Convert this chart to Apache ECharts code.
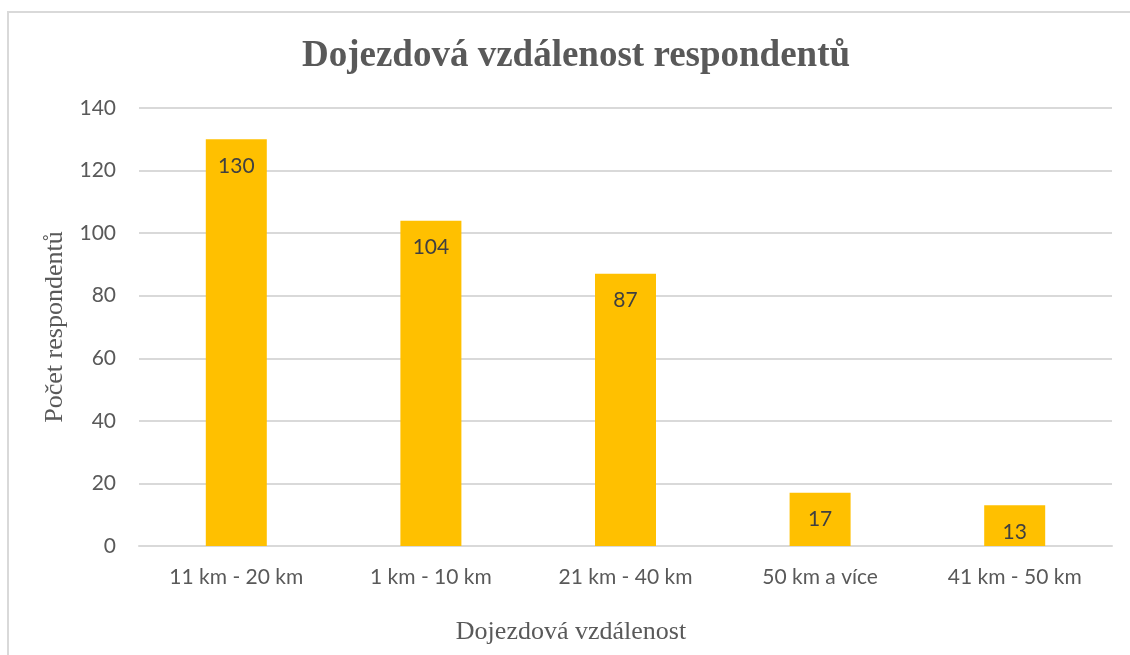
<!DOCTYPE html>
<html>
<head>
<meta charset="utf-8">
<script src="https://cdn.jsdelivr.net/npm/echarts@6/dist/echarts.min.js"></script>
<style>
  html, body { margin: 0; padding: 0; background: #fff; }
  #chart { width: 1130px; height: 655px; }
</style>
</head>
<body>
<div id="chart"></div>
<script>
// data
var categories = ['11 km - 20 km', '1 km - 10 km', '21 km - 40 km', '50 km a více', '41 km - 50 km'];
var respondents = [130, 104, 87, 17, 13];

var chart = echarts.init(document.getElementById('chart'));

var serif = '"Liberation Serif", "DejaVu Serif", serif';
var sans = 'Lato, "Open Sans", sans-serif';

option = {
    animation: false,
    backgroundColor: '#fff',
    graphic: [{
        type: 'rect',
        shape: { x: 8, y: 12, width: 1130, height: 700 },
        style: { fill: 'none', stroke: '#d9d9d9', lineWidth: 2 },
        silent: true
    }],
    title: [{
        text: 'Dojezdová vzdálenost respondentů',
        left: 571,
        top: 33,
        textAlign: 'center',
        textStyle: {
            fontFamily: serif,
            fontWeight: 'bold',
            fontSize: 37,
            color: '#595959'
        }
    }, {
        text: 'Dojezdová vzdálenost',
        left: 566,
        top: 614,
        textAlign: 'center',
        textStyle: {
            fontFamily: serif,
            fontWeight: 'normal',
            fontSize: 26,
            color: '#595959'
        }
    }],
    grid: {
        left: 139,
        right: 18,
        top: 108,
        bottom: 109
    },
    xAxis: {
        type: 'category',
        data: categories,
        axisTick: { show: false },
        axisLine: { lineStyle: { color: '#d9d9d9', width: 2 } },
        axisLabel: {
            margin: 21,
            fontFamily: sans,
            fontSize: 21,
            color: '#595959'
        }
    },
    yAxis: {
        type: 'value',
        min: 0,
        max: 140,
        interval: 20,
        name: 'Počet respondentů',
        nameLocation: 'middle',
        nameGap: 70,
        nameTextStyle: {
            fontFamily: serif,
            fontSize: 26,
            color: '#595959'
        },
        axisLine: { show: false },
        axisTick: { show: false },
        axisLabel: {
            margin: 23,
            fontFamily: sans,
            fontSize: 21,
            color: '#595959'
        },
        splitLine: { lineStyle: { color: '#d9d9d9', width: 2 } }
    },
    series: [{
        name: 'Počet respondentů',
        type: 'bar',
        data: respondents,
        barWidth: 61,
        itemStyle: { color: '#FFC000' },
        label: {
            show: true,
            position: 'insideTop',
            distance: 16,
            fontFamily: sans,
            fontSize: 21,
            color: '#404040'
        }
    }]
};
chart.setOption(option);
</script>
</body>
</html>
